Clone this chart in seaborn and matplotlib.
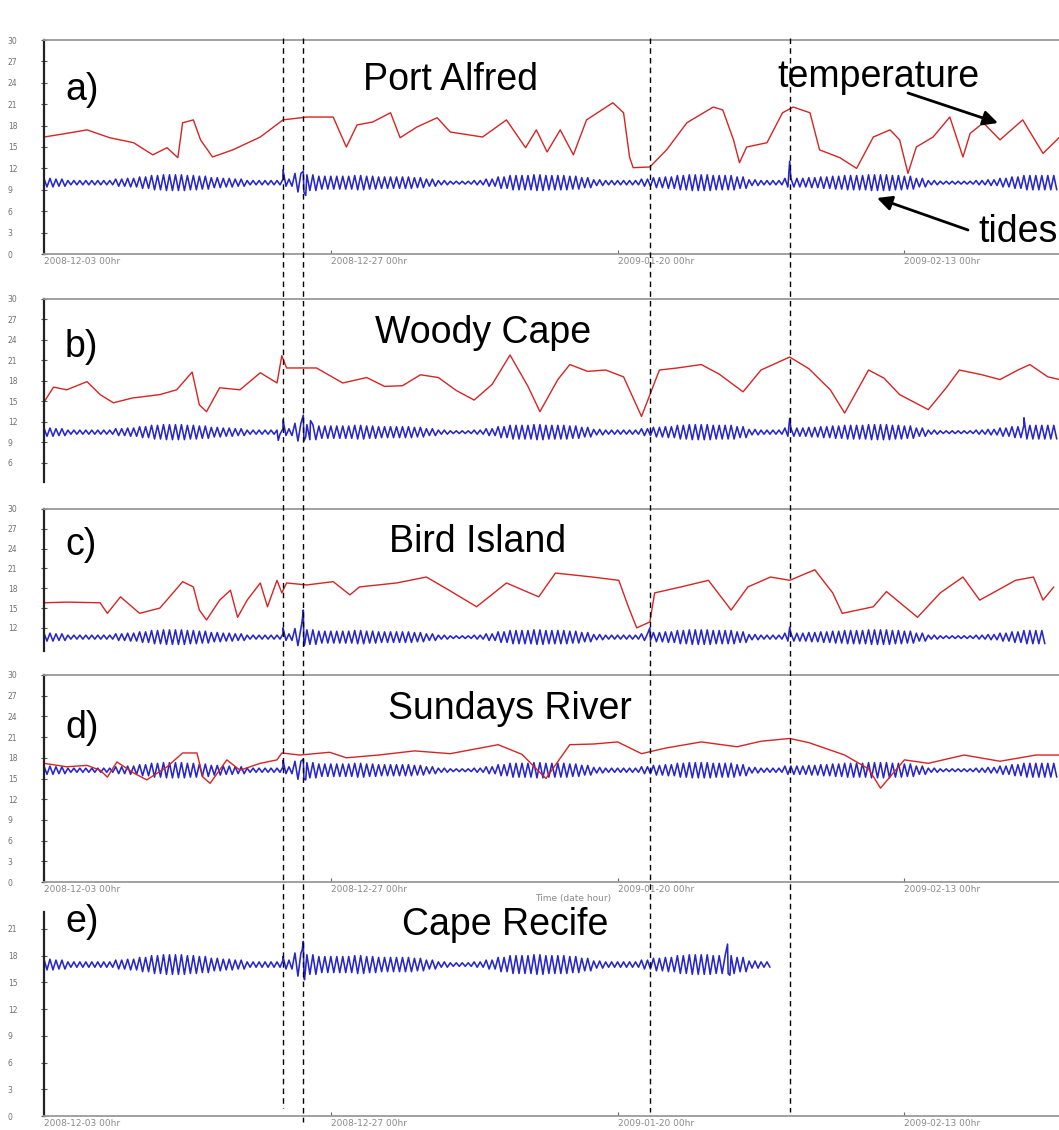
import numpy as np
import pandas as pd
import matplotlib
matplotlib.use("Agg")
import matplotlib.pyplot as plt
import seaborn as sns

# ---------------- data (days since 2008-12-03 00hr) ----------------
xtick_days = [0, 24, 48, 72]
xtick_labels = ["2008-12-03 00hr", "2008-12-27 00hr", "2009-01-20 00hr", "2009-02-13 00hr"]
event_days = [20.0, 21.7, 50.7, 62.4]

site_names = ["Port Alfred", "Woody Cape", "Bird Island", "Sundays River", "Cape Recife"]
panel_tags = ["a)", "b)", "c)", "d)", "e)"]

# temperature (red), read at irregular days
temp_a_day = [0, 1.5, 3.6, 5.5, 7.5, 9.1, 10.3, 11.2, 11.6, 12.5, 13.1, 14.1, 15.8, 18.1, 20, 22, 24.2,
              25.3, 26.2, 27.5, 29, 29.8, 31.2, 32.9, 34, 36.7, 38.7, 40.3, 41.2, 42.1, 43.2, 44.3, 45.4,
              47.6, 48.5, 49, 49.3, 50.7, 52.1, 53.8, 56, 56.8, 57.7, 58.2, 58.8, 60.5, 61.8, 62.7, 64.1,
              64.9, 66.6, 68, 69.4, 70.8, 71.6, 72.3, 73, 74.4, 75.8, 76.9, 77.5, 78.6, 80, 81.9, 83.6, 85]
temp_a_val = [16.4, 16.8, 17.4, 16.3, 15.6, 13.9, 14.9, 13.5, 18.4, 18.8, 16, 13.6, 14.6, 16.4, 18.8, 19.2,
              19.2, 15, 18.1, 18.5, 19.8, 16.3, 17.8, 19.1, 17.1, 16.4, 18.8, 14.9, 17.4, 14.3, 17.4, 13.9,
              18.8, 21.2, 19.8, 13.6, 12.1, 12.2, 14.6, 18.4, 20.6, 20.2, 16, 12.8, 15, 15.6, 19.8, 20.6,
              19.8, 14.6, 13.5, 12, 16.4, 17.4, 16, 11.3, 15, 16.4, 19.2, 13.6, 16.9, 18.4, 16, 18.8, 14.1, 16.4]

temp_b_day = [0, 0.8, 1.9, 3.6, 4.7, 5.8, 7.4, 9.7, 11.1, 12.4, 13, 13.6, 14.7, 16.4, 18.1, 19.5, 19.9,
              20.3, 22.8, 25, 27, 28.5, 30, 31.5, 33, 34.5, 36, 37.5, 39, 40.5, 41.5, 43, 44, 45.5, 47, 48.5,
              50, 51.5, 53, 55, 56.5, 58.5, 60, 62.4, 64, 65.8, 67, 69, 70.3, 71.6, 74, 75.5, 76.6, 78.5,
              80, 81.5, 82.5, 84, 85]
temp_b_val = [14.9, 17.1, 16.7, 17.9, 16, 14.8, 15.5, 16, 16.7, 19.3, 14.5, 13.5, 17, 16.7, 19.2, 17.7,
              21.7, 19.9, 19.9, 17.7, 18.5, 17.2, 17.3, 18.9, 18.5, 16.6, 15.2, 17.5, 21.8, 17.2, 13.5, 18.2,
              20.4, 19.4, 19.6, 18.6, 12.8, 19.6, 19.9, 20.4, 19.0, 16.4, 19.6, 21.5, 19.8, 16.7, 13.3, 19.6,
              18.4, 16, 13.8, 17.0, 19.6, 18.9, 18.2, 19.6, 20.4, 18.6, 18.2]

temp_c_day = [0, 1.9, 4.7, 5.3, 6.4, 8, 9.7, 10.8, 11.6, 12.5, 13, 13.6, 14.7, 15.6, 16.2, 17, 18.1, 18.7,
              19.5, 19.9, 20.3, 22, 24.2, 25.6, 26.4, 29.5, 32, 33.9, 36.2, 38.7, 41.4, 42.8, 45.9, 48.1,
              48.9, 49.6, 50.7, 51.1, 53.3, 55.6, 57.5, 58.9, 60.8, 62.4, 64.5, 66, 66.8, 69.4, 70.5, 73.1,
              75, 76.9, 78.3, 79.8, 81.3, 82.8, 83.6, 84.5]
temp_c_val = [15.8, 15.9, 15.8, 14.2, 16.7, 14.2, 15, 17.3, 19, 18.2, 14.7, 13.2, 16.2, 17.7, 13.6, 16.2,
              18.8, 15.2, 19.2, 17.3, 18.8, 18.5, 19, 17, 18.2, 18.8, 19.7, 17.7, 15.2, 18.8, 16.7, 20.3,
              19.7, 19.2, 15.2, 12, 12.9, 17.3, 18.2, 19.2, 14.7, 18.2, 19.7, 19.2, 20.8, 17.3, 14.2, 15.2,
              17.5, 13.6, 17.3, 19.7, 16.2, 17.7, 19.2, 19.7, 16.2, 18.2]

temp_d_day = [0, 1.9, 3.6, 4.7, 5.3, 6.1, 7.5, 8.6, 10.3, 11.6, 12.8, 13.3, 13.9, 15.3, 16.4, 18.1, 19.5,
              19.9, 21.4, 23.9, 25.3, 28, 31, 34, 38, 40, 42, 44, 46, 48, 50, 52, 55, 58, 60, 62.4, 64, 67,
              69, 70, 72, 74, 77, 80, 83, 85]
temp_d_val = [17.2, 16.7, 16.9, 16.2, 15.2, 17.4, 15.8, 14.8, 16.7, 18.7, 18.7, 15.2, 14.3, 17.7, 16.2,
              17.2, 17.7, 18.7, 18.4, 18.8, 18, 18.4, 19, 18.6, 19.9, 18.5, 15, 19.9, 20, 20.3, 18.6, 19.4,
              20.3, 19.6, 20.4, 20.8, 20.2, 18.4, 16.4, 13.6, 17.7, 17.2, 18.4, 17.5, 18.4, 18.4]

# tides (blue): daily high / low envelope, plus spikes
tide_hi_a = [10.6, 10.5, 10.3, 10.3, 10.3, 10.3, 10.5, 10.6, 10.8, 11.0, 11.1, 11.1, 11.0, 10.9, 10.7, 10.6, 10.5,
             10.3, 10.3, 10.3, 10.5, 11.3, 11.1, 10.9, 10.9, 10.9, 11.0, 10.9, 10.8, 10.8, 10.8, 10.7, 10.5, 10.3,
             10.2, 10.2, 10.3, 10.5, 10.8, 11.0, 11.0, 11.1, 11.0, 11.0, 10.9, 10.7, 10.4, 10.3, 10.3, 10.3, 10.5,
             10.7, 10.8, 11.0, 11.1, 11.1, 11.0, 11.0, 10.8, 10.4, 10.3, 10.3, 10.6, 10.6, 10.7, 10.8, 10.9, 11.0,
             11.0, 11.1, 11.1, 11.0, 10.9, 10.6, 10.3, 10.2, 10.2, 10.2, 10.3, 10.4, 10.6, 10.8, 11.0, 11.0, 11.0]
tide_lo_a = [9.4, 9.5, 9.7, 9.7, 9.7, 9.7, 9.5, 9.4, 9.2, 9.0, 8.9, 8.9, 9.0, 9.1, 9.3, 9.4, 9.5, 9.7, 9.7, 9.7,
             9.5, 8.7, 8.9, 9.1, 9.1, 9.1, 9.0, 9.1, 9.2, 9.2, 9.2, 9.3, 9.5, 9.7, 9.8, 9.8, 9.7, 9.5, 9.2, 9.0,
             9.0, 8.9, 9.0, 9.0, 9.1, 9.3, 9.6, 9.7, 9.7, 9.7, 9.5, 9.3, 9.2, 9.0, 8.9, 8.9, 9.0, 9.0, 9.2, 9.6,
             9.7, 9.7, 9.4, 9.4, 9.3, 9.2, 9.1, 9.0, 9.0, 8.9, 8.9, 9.0, 9.1, 9.4, 9.7, 9.8, 9.8, 9.8, 9.7, 9.6,
             9.4, 9.2, 9.0, 9.0, 9.0]
tide_spike_a_day = [20.0, 21.7, 21.9, 62.4]
tide_spike_a_val = [11.8, 11.6, 8.2, 13.0]

tide_hi_b = [11.1, 11.0, 10.8, 10.8, 10.8, 10.8, 11.0, 11.1, 11.3, 11.5, 11.6, 11.6, 11.5, 11.4, 11.2, 11.1, 11.0,
             10.8, 10.8, 10.8, 11.0, 11.8, 11.6, 11.4, 11.4, 11.4, 11.5, 11.4, 11.3, 11.3, 11.3, 11.2, 11.0, 10.8,
             10.7, 10.7, 10.8, 11.0, 11.3, 11.5, 11.5, 11.6, 11.5, 11.5, 11.4, 11.2, 10.9, 10.8, 10.8, 10.8, 11.0,
             11.2, 11.3, 11.5, 11.6, 11.6, 11.5, 11.5, 11.3, 10.9, 10.8, 10.8, 11.1, 11.1, 11.2, 11.3, 11.4, 11.5,
             11.5, 11.6, 11.6, 11.5, 11.4, 11.1, 10.8, 10.7, 10.7, 10.7, 10.8, 10.9, 11.1, 11.3, 11.5, 11.5, 11.5]
tide_lo_b = [9.9, 10.0, 10.2, 10.2, 10.2, 10.2, 10.0, 9.9, 9.7, 9.5, 9.4, 9.4, 9.5, 9.6, 9.8, 9.9, 10.0, 10.2,
             10.2, 10.2, 10.0, 9.2, 9.4, 9.6, 9.6, 9.6, 9.5, 9.6, 9.7, 9.7, 9.7, 9.8, 10.0, 10.2, 10.3, 10.3, 10.2,
             10.0, 9.7, 9.5, 9.5, 9.4, 9.5, 9.5, 9.6, 9.8, 10.1, 10.2, 10.2, 10.2, 10.0, 9.8, 9.7, 9.5, 9.4, 9.4,
             9.5, 9.5, 9.7, 10.1, 10.2, 10.2, 9.9, 9.9, 9.8, 9.7, 9.6, 9.5, 9.5, 9.4, 9.4, 9.5, 9.6, 9.9, 10.2,
             10.3, 10.3, 10.3, 10.2, 10.1, 9.9, 9.7, 9.5, 9.5, 9.5]
tide_spike_b_day = [19.6, 20.0, 21.7, 21.9, 22.3, 62.4, 82.0]
tide_spike_b_val = [9.3, 12.3, 13.0, 9.8, 12.2, 12.5, 12.6]

tide_hi_c = [11.2, 11.1, 10.9, 10.9, 10.9, 10.9, 11.1, 11.2, 11.4, 11.6, 11.7, 11.7, 11.6, 11.5, 11.3, 11.2, 11.1,
             10.9, 10.9, 10.9, 11.1, 11.9, 11.7, 11.5, 11.5, 11.5, 11.6, 11.5, 11.4, 11.4, 11.4, 11.3, 11.1, 10.9,
             10.8, 10.8, 10.9, 11.1, 11.4, 11.6, 11.6, 11.7, 11.6, 11.6, 11.5, 11.3, 11.0, 10.9, 10.9, 10.9, 11.1,
             11.3, 11.4, 11.6, 11.7, 11.7, 11.6, 11.6, 11.4, 11.0, 10.9, 10.9, 11.2, 11.2, 11.3, 11.4, 11.5, 11.6,
             11.6, 11.7, 11.7, 11.6, 11.5, 11.2, 10.9, 10.8, 10.8, 10.8, 10.9, 11.0, 11.2, 11.4, 11.6, 11.6]
tide_lo_c = [10.0, 10.1, 10.3, 10.3, 10.3, 10.3, 10.1, 10.0, 9.8, 9.6, 9.5, 9.5, 9.6, 9.7, 9.9, 10.0, 10.1, 10.3,
             10.3, 10.3, 10.1, 9.3, 9.5, 9.7, 9.7, 9.7, 9.6, 9.7, 9.8, 9.8, 9.8, 9.9, 10.1, 10.3, 10.4, 10.4, 10.3,
             10.1, 9.8, 9.6, 9.6, 9.5, 9.6, 9.6, 9.7, 9.9, 10.2, 10.3, 10.3, 10.3, 10.1, 9.9, 9.8, 9.6, 9.5, 9.5,
             9.6, 9.6, 9.8, 10.2, 10.3, 10.3, 10.0, 10.0, 9.9, 9.8, 9.7, 9.6, 9.6, 9.5, 9.5, 9.6, 9.7, 10.0, 10.3,
             10.4, 10.4, 10.4, 10.3, 10.2, 10.0, 9.8, 9.6, 9.6]
tide_spike_c_day = [20.0, 21.6, 21.7, 21.8, 50.7, 62.4]
tide_spike_c_val = [12.0, 13.0, 14.7, 9.4, 12.0, 12.1]

tide_hi_d = [16.8, 16.7, 16.5, 16.5, 16.5, 16.5, 16.7, 16.8, 17.0, 17.2, 17.3, 17.3, 17.2, 17.1, 16.9, 16.8, 16.7,
             16.5, 16.5, 16.5, 16.7, 17.5, 17.3, 17.1, 17.1, 17.1, 17.2, 17.1, 17.0, 17.0, 17.0, 16.9, 16.7, 16.5,
             16.4, 16.4, 16.5, 16.7, 17.0, 17.2, 17.2, 17.3, 17.2, 17.2, 17.1, 16.9, 16.6, 16.5, 16.5, 16.5, 16.7,
             16.9, 17.0, 17.2, 17.3, 17.3, 17.2, 17.2, 17.0, 16.6, 16.5, 16.5, 16.8, 16.8, 16.9, 17.0, 17.1, 17.2,
             17.2, 17.3, 17.3, 17.2, 17.1, 16.8, 16.5, 16.4, 16.4, 16.4, 16.5, 16.6, 16.8, 17.0, 17.2, 17.2, 17.2]
tide_lo_d = [15.6, 15.7, 15.9, 15.9, 15.9, 15.9, 15.7, 15.6, 15.4, 15.2, 15.1, 15.1, 15.2, 15.3, 15.5, 15.6, 15.7,
             15.9, 15.9, 15.9, 15.7, 14.9, 15.1, 15.3, 15.3, 15.3, 15.2, 15.3, 15.4, 15.4, 15.4, 15.5, 15.7, 15.9,
             16.0, 16.0, 15.9, 15.7, 15.4, 15.2, 15.2, 15.1, 15.2, 15.2, 15.3, 15.5, 15.8, 15.9, 15.9, 15.9, 15.7,
             15.5, 15.4, 15.2, 15.1, 15.1, 15.2, 15.2, 15.4, 15.8, 15.9, 15.9, 15.6, 15.6, 15.5, 15.4, 15.3, 15.2,
             15.2, 15.1, 15.1, 15.2, 15.3, 15.6, 15.9, 16.0, 16.0, 16.0, 15.9, 15.8, 15.6, 15.4, 15.2, 15.2, 15.2]
tide_spike_d_day = [20.0, 21.7, 21.9]
tide_spike_d_val = [17.6, 17.8, 14.8]

tide_hi_e = [17.6, 17.5, 17.3, 17.3, 17.3, 17.3, 17.5, 17.6, 17.8, 18.0, 18.1, 18.1, 18.0, 17.9, 17.7, 17.6, 17.5,
             17.3, 17.3, 17.3, 17.5, 18.3, 18.1, 17.9, 17.9, 17.9, 18.0, 17.9, 17.8, 17.8, 17.8, 17.7, 17.5, 17.3,
             17.2, 17.2, 17.3, 17.5, 17.8, 18.0, 18.0, 18.1, 18.0, 18.0, 17.9, 17.7, 17.4, 17.3, 17.3, 17.3, 17.5,
             17.7, 17.8, 18.0, 18.1, 18.1, 18.0, 18.0, 17.8, 17.4, 17.3]
tide_lo_e = [16.4, 16.5, 16.7, 16.7, 16.7, 16.7, 16.5, 16.4, 16.2, 16.0, 15.9, 15.9, 16.0, 16.1, 16.3, 16.4, 16.5,
             16.7, 16.7, 16.7, 16.5, 15.7, 15.9, 16.1, 16.1, 16.1, 16.0, 16.1, 16.2, 16.2, 16.2, 16.3, 16.5, 16.7,
             16.8, 16.8, 16.7, 16.5, 16.2, 16.0, 16.0, 15.9, 16.0, 16.0, 16.1, 16.3, 16.6, 16.7, 16.7, 16.7, 16.5,
             16.3, 16.2, 16.0, 15.9, 15.9, 16.0, 16.0, 16.2, 16.6, 16.7]
tide_spike_e_day = [20.0, 21.6, 21.7, 21.8, 57.2, 57.4]
tide_spike_e_val = [17.9, 18.6, 19.6, 15.3, 19.3, 15.8]

# ---------------- figure ----------------
sns.set_style("white")
plt.rcParams["font.family"] = ["DejaVu Sans"]

W, H = 1059, 1130
fig = plt.figure(figsize=(W / 100, H / 100), dpi=100)
fig.patch.set_facecolor("white")

X0, X1 = 44, 1102          # pixel span of the axes (right part runs off the page)
XMAX = (X1 - X0) / 11.95   # days covered


def tide_frame(hi, lo, sp_d, sp_v):
    days = np.arange(len(hi), dtype=float)
    t = np.concatenate([days, days + 0.25, days + 0.5, days + 0.75, sp_d])
    v = np.concatenate([hi, lo, hi, lo, sp_v])
    o = np.argsort(t, kind="stable")
    return pd.DataFrame({"day": t[o], "value": v[o]})


panels = [
    dict(top=40, bottom=254, ylim=(0, 30), yt=list(range(0, 31, 3)), sp=("left", "top", "bottom"),
         xt=True, temp=(temp_a_day, temp_a_val),
         tide=(tide_hi_a, tide_lo_a, tide_spike_a_day, tide_spike_a_val)),
    dict(top=299, bottom=482, ylim=(3.2, 30), yt=list(range(6, 31, 3)), sp=("left", "top"),
         xt=False, temp=(temp_b_day, temp_b_val),
         tide=(tide_hi_b, tide_lo_b, tide_spike_b_day, tide_spike_b_val)),
    dict(top=509, bottom=651, ylim=(8.5, 30), yt=list(range(12, 31, 3)), sp=("left", "top"),
         xt=False, temp=(temp_c_day, temp_c_val),
         tide=(tide_hi_c, tide_lo_c, tide_spike_c_day, tide_spike_c_val)),
    dict(top=675, bottom=882, ylim=(0, 30), yt=list(range(0, 31, 3)), sp=("left", "top", "bottom"),
         xt=True, temp=(temp_d_day, temp_d_val),
         tide=(tide_hi_d, tide_lo_d, tide_spike_d_day, tide_spike_d_val)),
    dict(top=912, bottom=1116, ylim=(0, 22.9), yt=list(range(0, 22, 3)), sp=("left", "bottom"),
         xt=True, temp=None,
         tide=(tide_hi_e, tide_lo_e, tide_spike_e_day, tide_spike_e_val)),
]

RED = "#d62424"
BLUE = "#2626cc"

axes = []
for i, p in enumerate(panels):
    ax = fig.add_axes([X0 / W, 1 - p["bottom"] / H, (X1 - X0) / W, (p["bottom"] - p["top"]) / H])
    ax.set_facecolor("none")
    tdf = tide_frame(*p["tide"])
    sns.lineplot(data=tdf, x="day", y="value", ax=ax, color=BLUE, lw=1.15, estimator=None)
    if p["temp"] is not None:
        mdf = pd.DataFrame({"day": p["temp"][0], "value": p["temp"][1]})
        sns.lineplot(data=mdf, x="day", y="value", ax=ax, color=RED, lw=1.0, estimator=None)
    ax.set_xlim(0, XMAX)
    ax.set_ylim(*p["ylim"])
    ax.set_xlabel("")
    ax.set_ylabel("")
    ax.grid(False)
    for s in ("left", "right", "top", "bottom"):
        ax.spines[s].set_visible(s in p["sp"])
    ax.spines["left"].set_color("#222222")
    ax.spines["left"].set_linewidth(1.6)
    for s in ("top", "bottom"):
        ax.spines[s].set_color("#9a9a9a")
        ax.spines[s].set_linewidth(1.3)
    ax.set_yticks(p["yt"], labels=[str(v) for v in p["yt"]])
    ax.tick_params(axis="y", left=True, direction="inout", length=4, width=0.8, color="#555555",
                   pad=24, labelsize=5.5, labelcolor="#707070")
    for lab in ax.get_yticklabels():
        lab.set_ha("left")
    if p["xt"]:
        ax.set_xticks(xtick_days, labels=xtick_labels)
        ax.tick_params(axis="x", bottom=True, direction="in", length=3, width=0.8, color="#666666",
                       pad=2, labelsize=6.5, labelcolor="#8a8a8a")
        for lab in ax.get_xticklabels():
            lab.set_ha("left")
    else:
        ax.set_xticks([])
    axes.append(ax)

axes[3].set_xlabel("Time (date hour)", fontsize=6.5, color="#8a8a8a", labelpad=0.5)

# dashed event lines spanning all panels
ov = fig.add_axes([X0 / W, 0, (X1 - X0) / W, 1])
ov.set_xlim(0, XMAX)
ov.set_ylim(H, 0)
ov.axis("off")
ov.patch.set_alpha(0)
ends = [1108, 1122, 1112, 1112]
for d, e in zip(event_days, ends):
    ov.vlines(d, 38, e, colors="black", linestyles=(0, (4, 3)), lw=1.0)

# texts
TF = ["Liberation Sans", "DejaVu Sans"]
title_pos = [(363, 90), (375, 343), (389, 552), (388, 719), (402, 935)]
tag_pos = [(65, 100), (65, 357), (65, 555), (65, 738), (65, 932)]
for name, (x, y) in zip(site_names, title_pos):
    fig.text(x / W, 1 - y / H, name, fontsize=27, family=TF, ha="left", va="baseline", color="black")
for tag, (x, y) in zip(panel_tags, tag_pos):
    fig.text(x / W, 1 - y / H, tag, fontsize=27, family=TF, ha="left", va="baseline", color="black")

fig.text(777 / W, 1 - 87 / H, "temperature", fontsize=27, family=TF, ha="left", va="baseline", color="black")
fig.text(978 / W, 1 - 242 / H, "tides", fontsize=27, family=TF, ha="left", va="baseline", color="black")

arrow = dict(arrowstyle="-|>", color="black", lw=2.0, mutation_scale=22, shrinkA=0, shrinkB=0)
fig.add_artist(matplotlib.patches.FancyArrowPatch((908 / W, 1 - 93 / H), (998 / W, 1 - 123 / H),
                                                  transform=fig.transFigure, **arrow))
fig.add_artist(matplotlib.patches.FancyArrowPatch((968 / W, 1 - 230 / H), (877 / W, 1 - 198 / H),
                                                  transform=fig.transFigure, **arrow))

fig.savefig("out.png", dpi=100, facecolor="white")
